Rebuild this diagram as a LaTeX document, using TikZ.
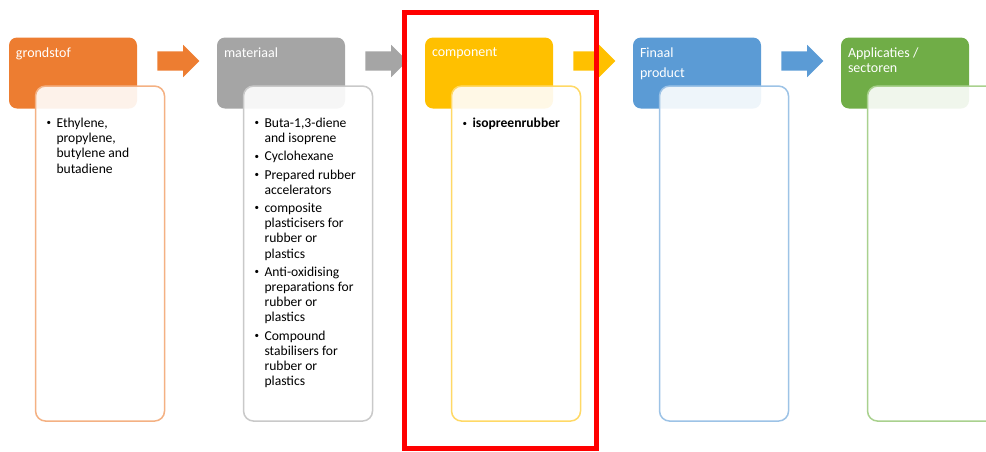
\documentclass[tikz,border=0pt]{standalone}
\usepackage{fontspec}
\setmainfont{Carlito}
\usetikzlibrary{positioning,shapes.arrows}

\definecolor{stofC}{HTML}{ED7D31}
\definecolor{stofL}{HTML}{F4B183}
\definecolor{matC}{HTML}{A5A5A5}
\definecolor{matL}{HTML}{C9C9C9}
\definecolor{compC}{HTML}{FFC000}
\definecolor{compL}{HTML}{FFD966}
\definecolor{prodC}{HTML}{5B9BD5}
\definecolor{prodL}{HTML}{9DC3E6}
\definecolor{appC}{HTML}{70AD47}
\definecolor{appL}{HTML}{A9D18E}

\newcommand{\bitem}[1]{\par\hangindent=10pt\hangafter=1\noindent\makebox[10pt][l]{\raisebox{1.5pt}{\fontsize{9}{9}\selectfont\textbullet}}#1\par\vspace{3pt}}
\newcommand{\dtext}[1]{\parbox[t][335pt][t]{107pt}{\raggedright\fontsize{13.6}{15.2}\selectfont\vspace*{32pt}#1}}

\begin{document}
\begin{tikzpicture}[x=1pt, y=-1pt, node distance=208pt,
		header/.style={rounded corners=8pt, minimum width=128pt, minimum height=71pt, inner sep=0pt},
		hlabel/.style={anchor=north west, inner sep=0pt, xshift=7pt, yshift=-10pt, text=white, align=left, font=\fontsize{14}{15.5}\selectfont},
		detail/.style={draw, line width=1.5pt, rounded corners=10pt, fill=white, fill opacity=0.9, text opacity=1, minimum width=129pt, inner xsep=11pt, inner ysep=0pt, anchor=north west},
		blockarrow/.style={single arrow, single arrow head extend=6.5pt, minimum height=42pt, inner xsep=0pt, inner ysep=9.5pt, anchor=west, xshift=20pt, yshift=12pt}]
		\useasboundingbox (0,0) rectangle (986,451);

		\node (grondstof) [header, fill=stofC, label={[hlabel]north west:grondstof}] at (73,73) {};
		\node (grondstofD) [detail, draw=stofL] at ([xshift=26pt, yshift=-48pt]grondstof.north west) {\dtext{\bitem{Ethylene,\newline propylene,\newline butylene and\newline butadiene}}};
		\node (pijl1) [blockarrow, fill=stofC] at (grondstof.east) {};

		\node (materiaal) [header, fill=matC, right of=grondstof, label={[hlabel]north west:materiaal}] {};
		\node (materiaalD) [detail, draw=matL] at ([xshift=26pt, yshift=-48pt]materiaal.north west) {\dtext{%
			\bitem{Buta-1,3-diene\newline and isoprene}
			\bitem{Cyclohexane}
			\bitem{Prepared rubber\newline accelerators}
			\bitem{composite\newline plasticisers for\newline rubber or\newline plastics}
			\bitem{Anti-oxidising\newline preparations for\newline rubber or\newline plastics}
			\bitem{Compound\newline stabilisers for\newline rubber or\newline plastics}}};
		\node (pijl2) [blockarrow, fill=matC] at (materiaal.east) {};

		\node (component) [header, fill=compC, right of=materiaal, label={[hlabel]north west:component}] {};
		\node (componentD) [detail, draw=compL] at ([xshift=26pt, yshift=-48pt]component.north west) {\dtext{\bitem{\textbf{isopreenrubber}}}};
		\node (pijl3) [blockarrow, fill=compC] at (component.east) {};

		\node (product) [header, fill=prodC, right of=component, label={[hlabel]north west:Finaal\\[4.5pt]product}] {};
		\node (productD) [detail, draw=prodL] at ([xshift=26pt, yshift=-48pt]product.north west) {\dtext{}};
		\node (pijl4) [blockarrow, fill=prodC] at (product.east) {};

		\node (sector) [header, fill=appC, right of=product, label={[hlabel]north west:Applicaties /\\sectoren}] {};
		\node (sectorD) [detail, draw=appL] at ([xshift=26pt, yshift=-48pt]sector.north west) {\dtext{}};

		\draw[red, line width=5pt] (404,12) rectangle (596,448);
	\end{tikzpicture}
\end{document}
